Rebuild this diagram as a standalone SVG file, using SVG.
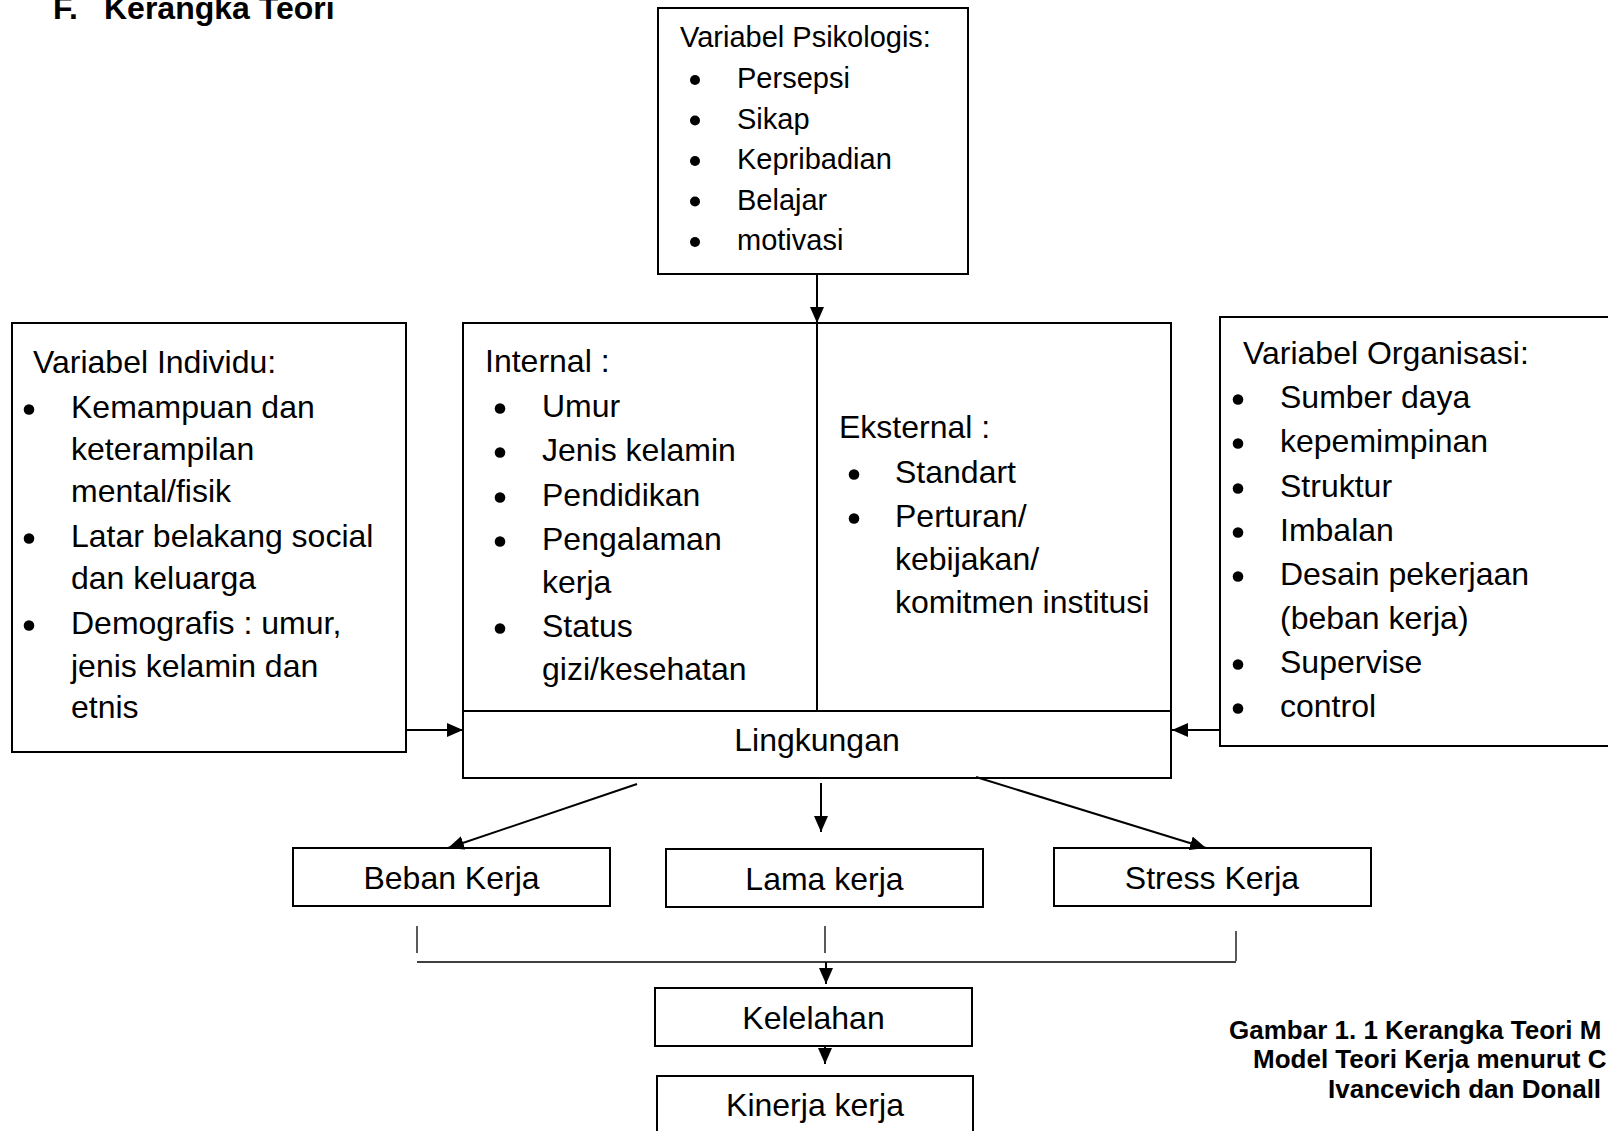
<svg xmlns="http://www.w3.org/2000/svg" width="1608" height="1131" viewBox="0 0 1608 1131">
<style>
text{font-family:"Liberation Sans",Arial,sans-serif;fill:#000}
.t{font-size:32px}
.s{font-size:29px}
.b{font-weight:bold}
.box{fill:#fff;stroke:#000;stroke-width:2}
.ln{fill:none;stroke:#000;stroke-width:2}
.thin{fill:none;stroke:#000;stroke-width:1.3}
.m{text-anchor:middle}
</style>
<defs>
<marker id="ah" markerUnits="userSpaceOnUse" markerWidth="16" markerHeight="14" refX="16" refY="7" orient="auto">
<path d="M0,0 L16,7 L0,14 z" fill="#000"/>
</marker>
</defs>
<rect width="1608" height="1131" fill="#fff"/>

<text class="t b" y="19"><tspan x="53">F.</tspan><tspan x="104">Kerangka Teori</tspan></text>

<g id="psikologis">
<rect class="box" x="658" y="8" width="310" height="266"/>
<text class="s" x="680" y="47">Variabel Psikologis:</text>
<g fill="#000"><circle cx="695" cy="80" r="5"/><circle cx="695" cy="120.5" r="5"/><circle cx="695" cy="161" r="5"/><circle cx="695" cy="201.5" r="5"/><circle cx="695" cy="242" r="5"/></g>
<text class="s" x="737" y="88">Persepsi</text>
<text class="s" x="737" y="128.5">Sikap</text>
<text class="s" x="737" y="169">Kepribadian</text>
<text class="s" x="737" y="209.5">Belajar</text>
<text class="s" x="737" y="250">motivasi</text>
</g>

<g id="individu">
<rect class="box" x="12" y="323" width="394" height="429"/>
<text class="t" x="33" y="373">Variabel Individu:</text>
<g fill="#000"><circle cx="29" cy="409.5" r="5.3"/><circle cx="29" cy="538.5" r="5.3"/><circle cx="29" cy="625.5" r="5.3"/></g>
<text class="t" x="71" y="418">Kemampuan dan</text>
<text class="t" x="71" y="460">keterampilan</text>
<text class="t" x="71" y="502">mental/fisik</text>
<text class="t" x="71" y="547">Latar belakang social</text>
<text class="t" x="71" y="589">dan keluarga</text>
<text class="t" x="71" y="634">Demografis : umur,</text>
<text class="t" x="71" y="677">jenis kelamin dan</text>
<text class="t" x="71" y="718">etnis</text>
</g>

<g id="internal-eksternal">
<rect class="box" x="463" y="323" width="708" height="388"/>
<line class="ln" x1="817" y1="323" x2="817" y2="711"/>
<text class="t" x="485" y="372">Internal :</text>
<g fill="#000"><circle cx="500" cy="408.5" r="5.3"/><circle cx="500" cy="452.5" r="5.3"/><circle cx="500" cy="497.5" r="5.3"/><circle cx="500" cy="541.5" r="5.3"/><circle cx="500" cy="628.5" r="5.3"/></g>
<text class="t" x="542" y="417">Umur</text>
<text class="t" x="542" y="461">Jenis kelamin</text>
<text class="t" x="542" y="506">Pendidikan</text>
<text class="t" x="542" y="550">Pengalaman</text>
<text class="t" x="542" y="593">kerja</text>
<text class="t" x="542" y="637">Status</text>
<text class="t" x="542" y="680">gizi/kesehatan</text>
<text class="t" x="839" y="438">Eksternal :</text>
<g fill="#000"><circle cx="854" cy="474.5" r="5.3"/><circle cx="854" cy="518.5" r="5.3"/></g>
<text class="t" x="895" y="483">Standart</text>
<text class="t" x="895" y="527">Perturan/</text>
<text class="t" x="895" y="570">kebijakan/</text>
<text class="t" x="895" y="613">komitmen institusi</text>
</g>

<g id="lingkungan">
<rect class="box" x="463" y="711" width="708" height="67"/>
<text class="t m" x="817" y="751">Lingkungan</text>
</g>

<g id="organisasi">
<rect class="box" x="1220" y="317" width="400" height="429"/>
<text class="t" x="1243" y="364">Variabel Organisasi:</text>
<g fill="#000"><circle cx="1238" cy="399.5" r="5.3"/><circle cx="1238" cy="443.5" r="5.3"/><circle cx="1238" cy="488.5" r="5.3"/><circle cx="1238" cy="532.5" r="5.3"/><circle cx="1238" cy="576.5" r="5.3"/><circle cx="1238" cy="664.5" r="5.3"/><circle cx="1238" cy="708.5" r="5.3"/></g>
<text class="t" x="1280" y="408">Sumber daya</text>
<text class="t" x="1280" y="452">kepemimpinan</text>
<text class="t" x="1280" y="497">Struktur</text>
<text class="t" x="1280" y="541">Imbalan</text>
<text class="t" x="1280" y="585">Desain pekerjaan</text>
<text class="t" x="1280" y="629">(beban kerja)</text>
<text class="t" x="1280" y="673">Supervise</text>
<text class="t" x="1280" y="717">control</text>
</g>

<g id="beban">
<rect class="box" x="293" y="848" width="317" height="58"/>
<text class="t m" x="451.5" y="889">Beban Kerja</text>
</g>
<g id="lama">
<rect class="box" x="666" y="849" width="317" height="58"/>
<text class="t m" x="824.5" y="890">Lama kerja</text>
</g>
<g id="stress">
<rect class="box" x="1054" y="848" width="317" height="58"/>
<text class="t m" x="1212" y="889">Stress Kerja</text>
</g>
<g id="kelelahan">
<rect class="box" x="655" y="988" width="317" height="58"/>
<text class="t m" x="813.5" y="1029">Kelelahan</text>
</g>
<g id="kinerja">
<rect class="box" x="657" y="1076" width="316" height="70"/>
<text class="t m" x="815" y="1116">Kinerja kerja</text>
</g>

<g id="caption">
<text class="b" font-size="26" x="1229" y="1039">Gambar 1. 1 Kerangka Teori M</text>
<text class="b" font-size="26" x="1253" y="1068">Model Teori Kerja menurut C</text>
<text class="b" font-size="26" x="1328" y="1098">Ivancevich dan Donall</text>
</g>

<g id="connectors">
<line class="ln" x1="817" y1="274" x2="817" y2="323" marker-end="url(#ah)"/>
<line class="ln" x1="406" y1="730" x2="463" y2="730" marker-end="url(#ah)"/>
<line class="ln" x1="1220" y1="730" x2="1172" y2="730" marker-end="url(#ah)"/>
<line class="ln" x1="637" y1="784" x2="448" y2="848" marker-end="url(#ah)"/>
<line class="ln" x1="821" y1="783" x2="821" y2="832" marker-end="url(#ah)"/>
<line class="ln" x1="976" y1="777" x2="1206" y2="848" marker-end="url(#ah)"/>
<line class="thin" x1="417" y1="926" x2="417" y2="953"/>
<line class="thin" x1="825" y1="926" x2="825" y2="953"/>
<line class="thin" x1="1236" y1="931" x2="1236" y2="961"/>
<line class="thin" x1="417" y1="962" x2="1236" y2="962"/>
<line class="ln" x1="826" y1="962" x2="826" y2="984" marker-end="url(#ah)"/>
<line class="ln" x1="825" y1="1046" x2="825" y2="1064" marker-end="url(#ah)"/>
</g>
</svg>
